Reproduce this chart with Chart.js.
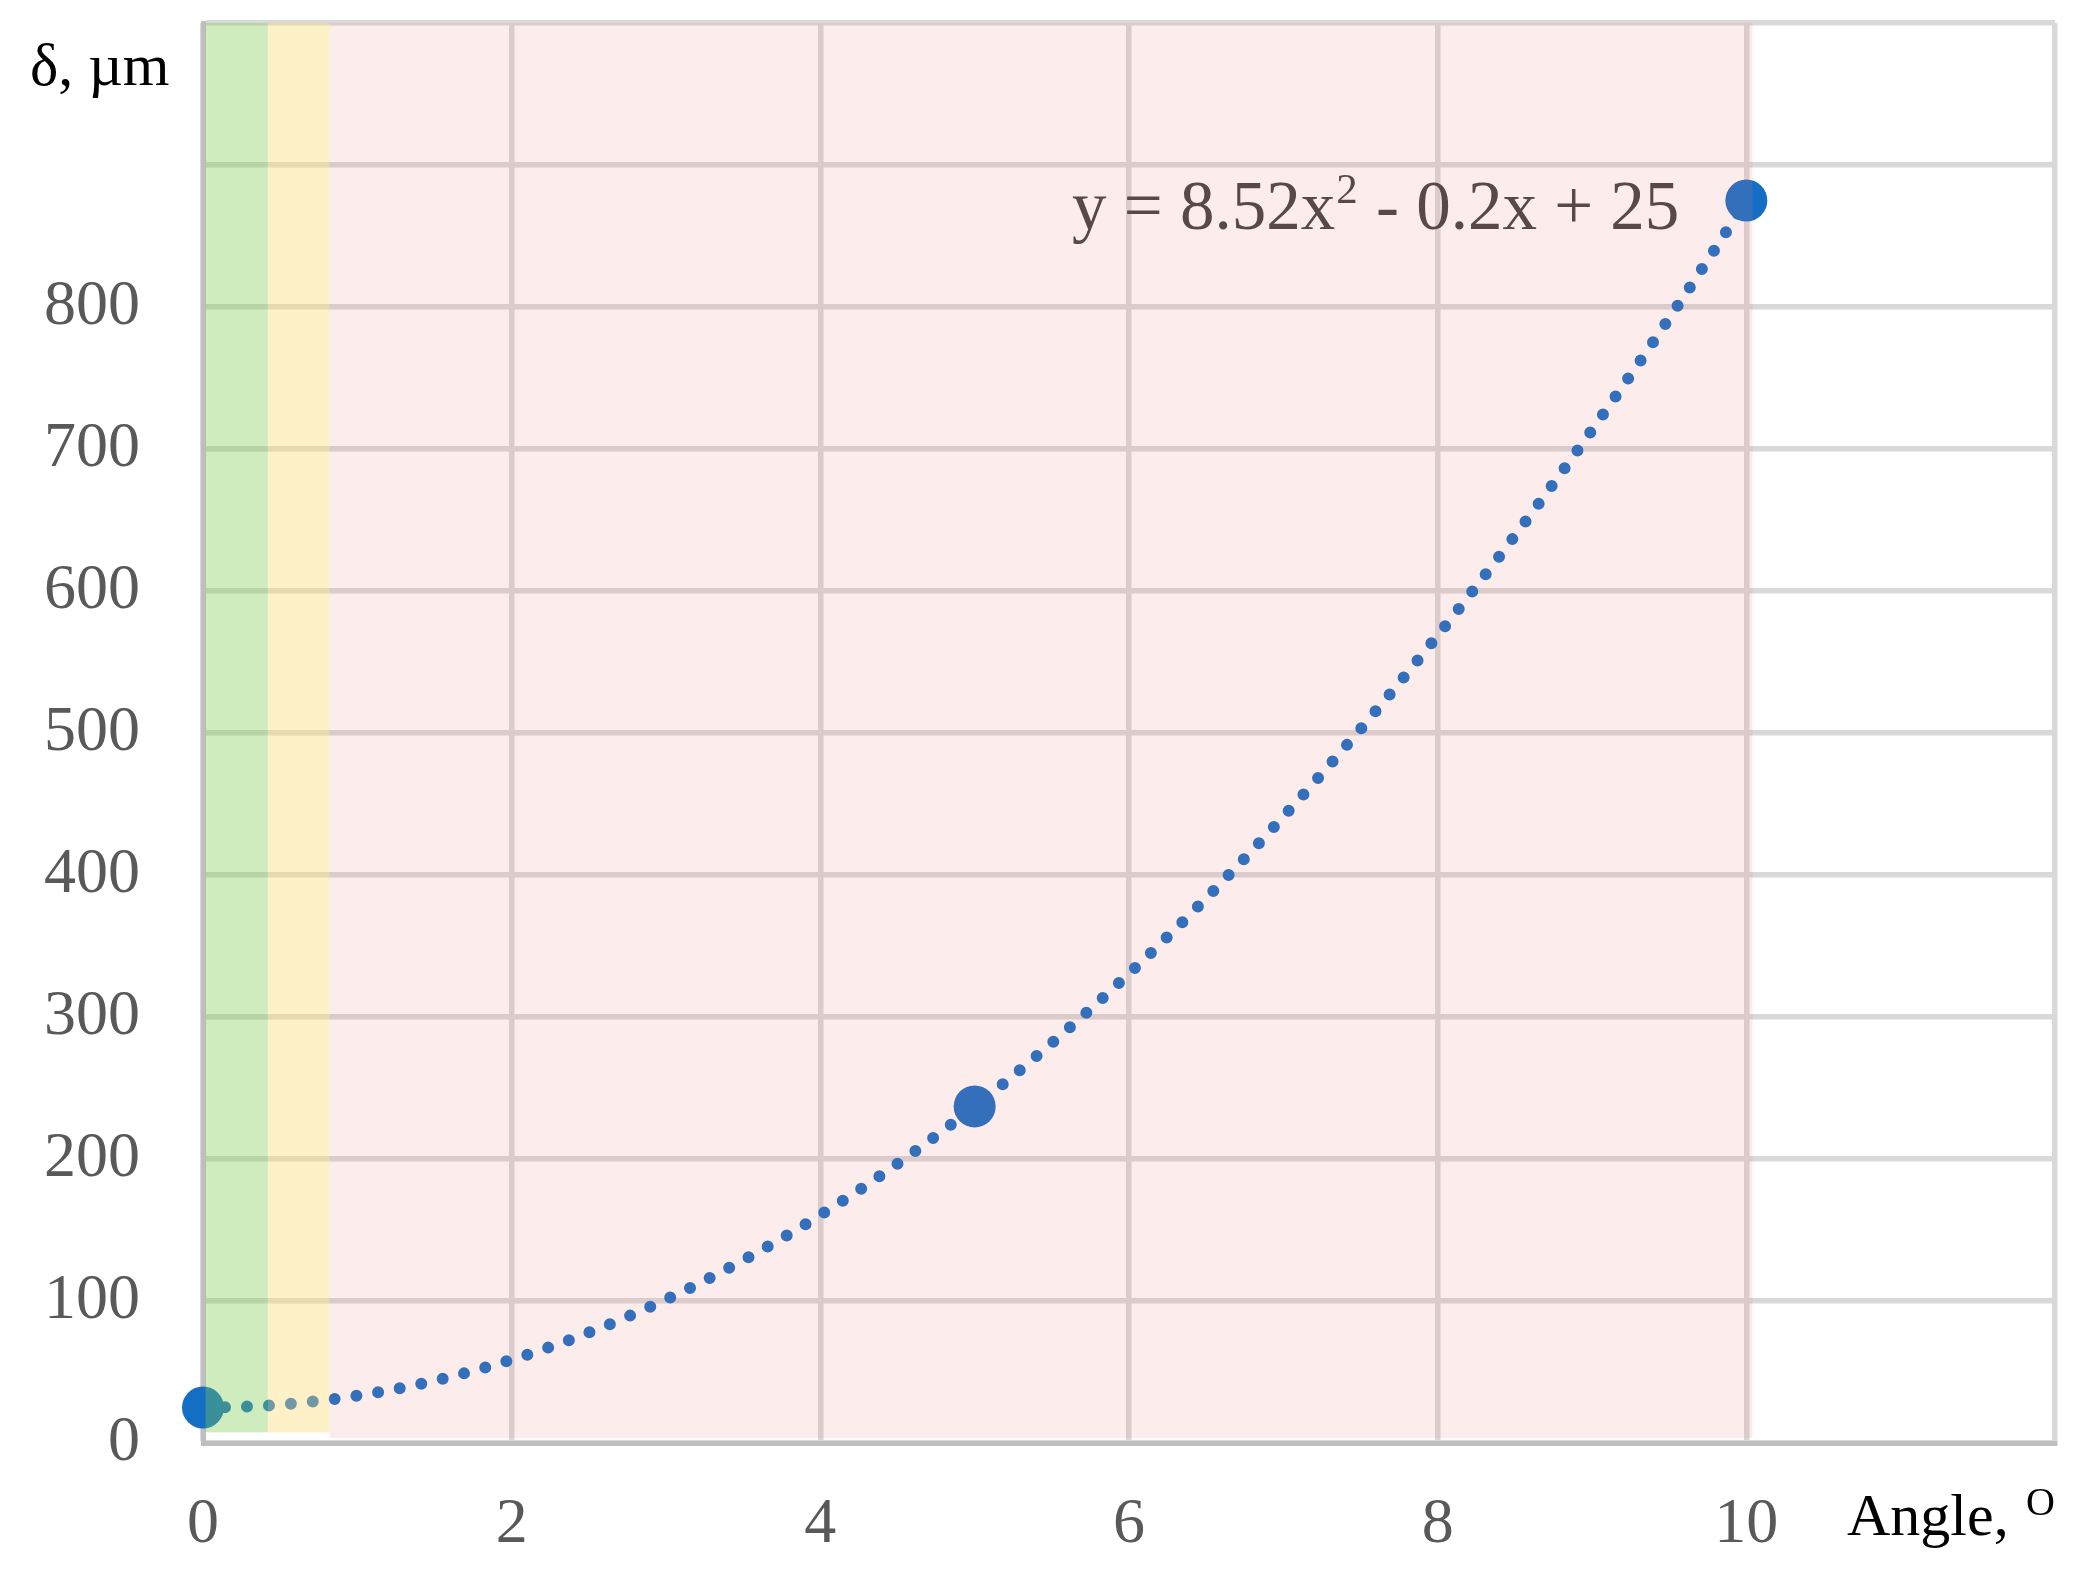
<!DOCTYPE html>
<html>
<head>
<meta charset="utf-8">
<script src="https://cdn.jsdelivr.net/npm/chart.js@4/dist/chart.umd.min.js"></script>
<style>
  html, body { margin: 0; padding: 0; background: #ffffff; }
  #wrap { width: 2090px; height: 1580px; }
</style>
</head>
<body>
<div id="wrap"><canvas id="c" width="2090" height="1580"></canvas></div>
<script>
// ---- data ----
const angles = [0, 5, 10];              // x values, degrees
const deflection = [25, 237, 875];      // δ, µm
const xTickLabels = ['0', '2', '4', '6', '8', '10'];
const yTickLabels = ['0', '100', '200', '300', '400', '500', '600', '700', '800'];
const bandStart = [0, 0.42, 0.82];
const bandEnd = [0.42, 0.82, 10.04];
const bandBottom = [7.5, 7.5, 3.5];
const bandTop = [1000, 1000, 1000];
const bandColors = ['rgba(126,204,79,0.37)', 'rgba(252,218,115,0.40)', 'rgba(244,118,122,0.14)'];
const equationText = ['y = 8.52x', '2', ' - 0.2x + 25'];
const xTitle = ['Angle, ', 'O'];
const yTitle = 'δ, µm';

// quadratic least-squares trendline fitted to the data
function fitQuadratic(xs, ys) {
  let s = [0, 0, 0, 0, 0], t = [0, 0, 0];
  for (let i = 0; i < xs.length; i++) {
    let p = 1;
    for (let k = 0; k < 5; k++) { s[k] += p; p *= xs[i]; }
    t[0] += ys[i]; t[1] += ys[i] * xs[i]; t[2] += ys[i] * xs[i] * xs[i];
  }
  const M = [[s[0], s[1], s[2], t[0]], [s[1], s[2], s[3], t[1]], [s[2], s[3], s[4], t[2]]];
  for (let i = 0; i < 3; i++) {
    let piv = i;
    for (let r = i + 1; r < 3; r++) if (Math.abs(M[r][i]) > Math.abs(M[piv][i])) piv = r;
    [M[i], M[piv]] = [M[piv], M[i]];
    for (let r = 0; r < 3; r++) {
      if (r === i) continue;
      const f = M[r][i] / M[i][i];
      for (let c = i; c < 4; c++) M[r][c] -= f * M[i][c];
    }
  }
  return [M[0][3] / M[0][0], M[1][3] / M[1][1], M[2][3] / M[2][2]]; // c0, c1, c2
}
const coef = fitQuadratic(angles, deflection);

const SERIF = '"Liberation Serif", "Times New Roman", serif';
const BLUE = 'rgb(20,110,198)';

const trendPlugin = {
  id: 'trend',
  beforeDatasetsDraw(chart) {
    const { ctx, scales: { x, y } } = chart;
    const x0 = angles[0], x1 = angles[angles.length - 1];
    ctx.save();
    ctx.strokeStyle = BLUE;
    ctx.lineWidth = 12;
    ctx.lineCap = 'round';
    ctx.setLineDash([0, 22]);
    ctx.beginPath();
    const steps = 400;
    for (let i = 0; i <= steps; i++) {
      const xv = x0 + (x1 - x0) * i / steps;
      const yv = coef[0] + coef[1] * xv + coef[2] * xv * xv;
      const px = x.getPixelForValue(xv), py = y.getPixelForValue(yv);
      if (i === 0) ctx.moveTo(px, py); else ctx.lineTo(px, py);
    }
    ctx.stroke();
    ctx.restore();
  },
  afterDatasetsDraw(chart) {
    const { ctx, scales: { x, y } } = chart;
    ctx.save();
    // equation label
    const fs = 69;
    ctx.fillStyle = '#404040';
    ctx.textBaseline = 'alphabetic';
    ctx.font = fs + 'px ' + SERIF;
    const w0 = ctx.measureText(equationText[0]).width;
    const w2 = ctx.measureText(equationText[2]).width;
    ctx.font = Math.round(fs * 0.62) + 'px ' + SERIF;
    const w1 = ctx.measureText(equationText[1]).width;
    const right = x.getPixelForValue(10) - 69;
    const base = y.getPixelForValue(855);
    let sx = right - (w0 + w1 + w2);
    ctx.font = fs + 'px ' + SERIF;
    ctx.fillText(equationText[0], sx, base);
    ctx.font = Math.round(fs * 0.62) + 'px ' + SERIF;
    ctx.fillText(equationText[1], sx + w0 + 1, base - fs * 0.38);
    ctx.font = fs + 'px ' + SERIF;
    ctx.fillText(equationText[2], sx + w0 + w1 + 2, base);
    // coloured bands over everything
    for (let i = 0; i < bandStart.length; i++) {
      const l = x.getPixelForValue(bandStart[i]);
      const r = x.getPixelForValue(bandEnd[i]);
      const t = y.getPixelForValue(bandTop[i]);
      const b = y.getPixelForValue(bandBottom[i]);
      ctx.fillStyle = bandColors[i];
      const l2 = i === 0 ? l + 2.5 : l;
      ctx.fillRect(l2, t, r - l2, b - t);
    }
    // axis titles
    ctx.fillStyle = '#000000';
    ctx.font = '60px ' + SERIF;
    ctx.textAlign = 'left';
    ctx.fillText(yTitle, 30, 85);
    ctx.fillText(xTitle[0], 1847, 1535);
    ctx.font = '40px ' + SERIF;
    ctx.fillText(xTitle[1], 2026, 1515);
    ctx.restore();
  }
};

new Chart(document.getElementById('c'), {
  type: 'scatter',
  data: {
    datasets: [{
      data: angles.map((a, i) => ({ x: a, y: deflection[i] })),
      backgroundColor: BLUE,
      borderColor: BLUE,
      pointRadius: 21,
      pointBorderWidth: 0,
      showLine: false,
      clip: false
    }]
  },
  options: {
    responsive: false,
    animation: false,
    layout: { padding: { top: 23, right: 35, left: 0, bottom: 0 } },
    plugins: { legend: { display: false }, tooltip: { enabled: false } },
    scales: {
      x: {
        type: 'linear', min: 0, max: 12,
        afterFit(s) { s.height = 137; s.paddingLeft = 0; s.paddingRight = 0; },
        grid: { color: '#d9d9d9', lineWidth: 5.5, drawTicks: false },
        border: { color: '#bfbfbf', width: 5 },
        ticks: {
          stepSize: 2, padding: 44, color: '#595959', maxRotation: 0,
          font: { family: SERIF, size: 64 },
          callback: v => xTickLabels.includes(String(v)) ? String(v) : ''
        }
      },
      y: {
        type: 'linear', min: 0, max: 1000,
        afterFit(s) { s.width = 203; s.paddingTop = 0; s.paddingBottom = 0; },
        grid: { color: '#d9d9d9', lineWidth: 5.5, drawTicks: false },
        border: { color: '#bfbfbf', width: 5 },
        ticks: {
          stepSize: 100, padding: 63, color: '#595959',
          font: { family: SERIF, size: 64 },
          callback: v => yTickLabels.includes(String(v)) ? String(v) : ''
        }
      }
    }
  },
  plugins: [trendPlugin]
});
</script>
</body>
</html>
